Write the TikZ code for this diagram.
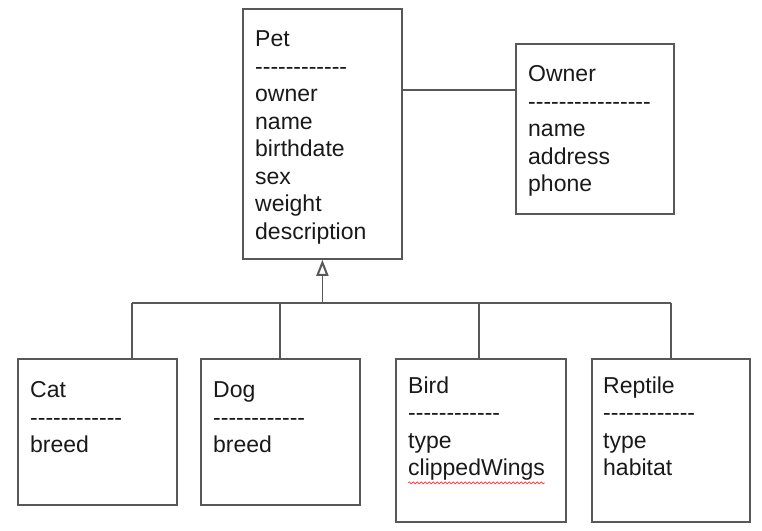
\documentclass[tikz,border=0pt]{standalone}
\usepackage{fontspec}
\setmainfont{Liberation Sans}[Ligatures=TeXOff]
\usetikzlibrary{arrows.meta,decorations.pathmorphing}
\definecolor{linegray}{RGB}{88,88,88}
\tikzset{
    classbox/.style={draw=linegray, line width=1.8pt, inner sep=0pt, anchor=north west},
    attrs/.style={anchor=north west, align=left, inner sep=0pt, text=black!90,
                  font=\fontsize{23}{27.5}\selectfont},
    link/.style={draw=linegray, line width=1.6pt}
}
\begin{document}
\begin{tikzpicture}[x=1pt, y=-1pt]
                \useasboundingbox (0,0) rectangle (762,530);
                
                \node[classbox, minimum width=159, minimum height=250] (pet) at (242,8) {};
                \node[classbox, minimum width=158, minimum height=170] (owner) at (515,43) {};
                \node[classbox, minimum width=159, minimum height=146] (cat) at (17,358) {};
                \node[classbox, minimum width=159, minimum height=146] (dog) at (200,358) {};
                \node[classbox, minimum width=170, minimum height=163] (bird) at (395,358) {};
                \node[classbox, minimum width=158, minimum height=163] (reptile) at (591,358) {};
                
                \node[attrs] (pettxt) at ([shift={(13,22.5)}]pet.north west)
                    {Pet\\------------\\owner\\name\\birthdate\\sex\\weight\\description};
                \node[attrs] (ownertxt) at ([shift={(13,22.5)}]owner.north west)
                    {Owner\\----------------\\name\\address\\phone};
                \node[attrs] (cattxt) at ([shift={(13,23.5)}]cat.north west)
                    {Cat\\------------\\breed};
                \node[attrs] (dogtxt) at ([shift={(13,23.5)}]dog.north west)
                    {Dog\\------------\\breed};
                \node[attrs] (birdtxt) at ([shift={(13,18.5)}]bird.north west)
                    {Bird\\------------\\type\\clippedWings};
                \node[attrs] (reptiletxt) at ([shift={(12,18.5)}]reptile.north west)
                    {Reptile\\------------\\type\\habitat};
                
                \draw[red!80, line width=0.6pt, decorate, decoration={snake, amplitude=1pt, segment length=4pt}]
                    ([yshift=-2pt]birdtxt.south west) -- ([yshift=-2pt]birdtxt.south east);
                
                \coordinate (assoc) at (458,90);
                \draw[link] (assoc -| pet.east) -- (assoc -| owner.west);
                
                \coordinate (hubL) at (132,303);
                \coordinate (hubD) at (280,303);
                \coordinate (hubB) at (479,303);
                \coordinate (hubR) at (671,303);
                \draw[link] (hubL) -- (hubR);
                \draw[link] (hubL) -- (hubL |- cat.north);
                \draw[link] (hubD) -- (hubD |- dog.north);
                \draw[link] (hubB) -- (hubB |- bird.north);
                \draw[link] (hubR) -- (hubR |- reptile.north);
                \draw[link, -{Triangle[open, length=16pt, width=12pt, line width=2pt]}]
                    (pet.south |- hubL) -- (pet.south);
            \end{tikzpicture}
\end{document}
